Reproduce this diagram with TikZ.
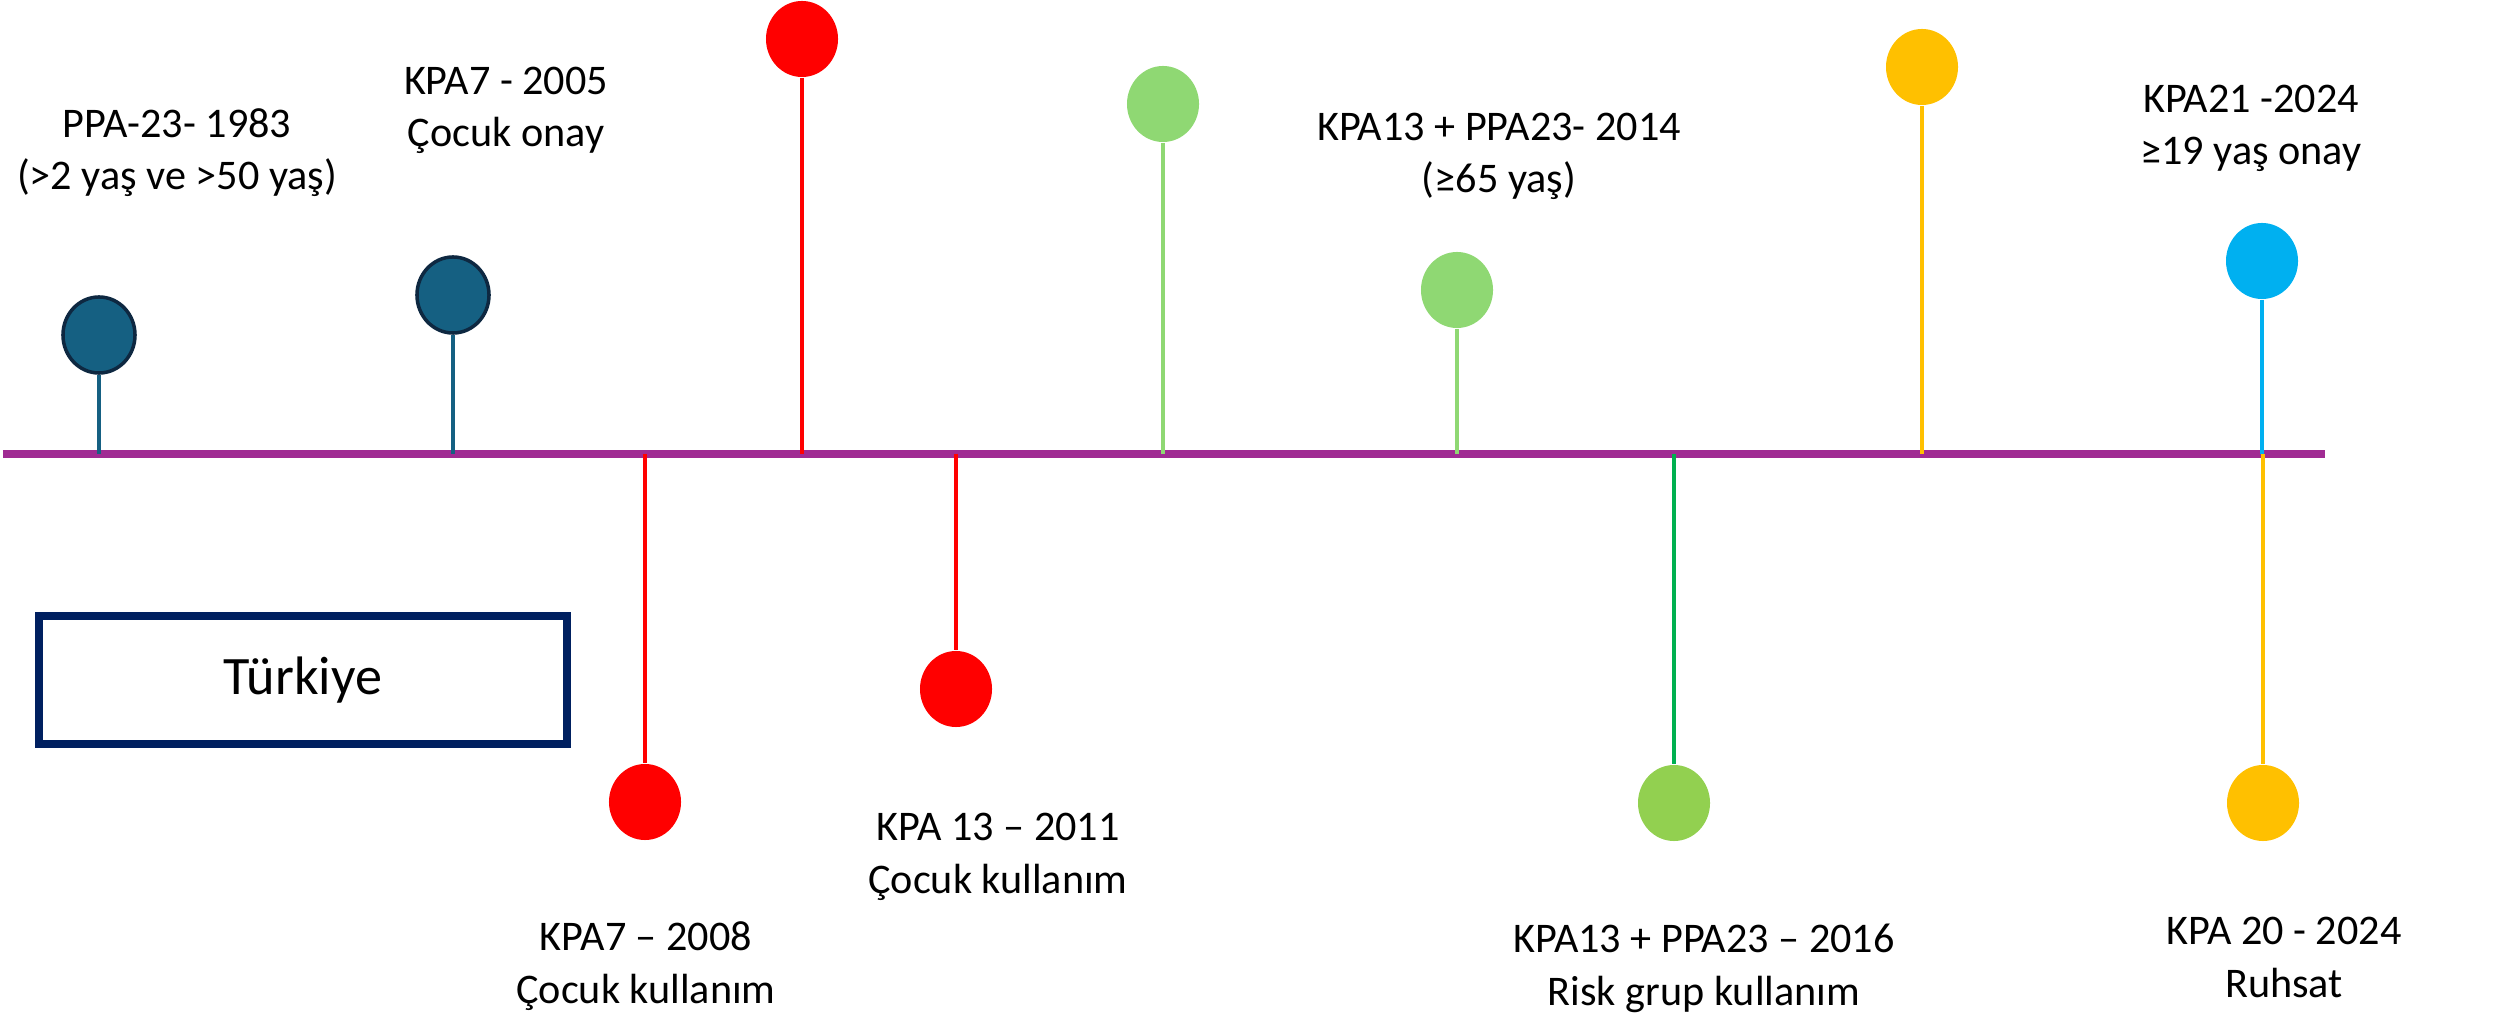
\documentclass[tikz,border=0pt]{standalone}
\usepackage{fontspec}
\setmainfont{Carlito}
\usetikzlibrary{shapes.geometric}
\definecolor{tlpurple}{RGB}{160,43,147}
\definecolor{dkblue}{RGB}{21,96,130}
\definecolor{dkedge}{RGB}{14,40,65}
\definecolor{ltgreen}{RGB}{143,216,115}
\definecolor{lmgreen}{RGB}{146,208,80}
\definecolor{stgreen}{RGB}{0,176,80}
\definecolor{ambr}{RGB}{255,192,0}
\definecolor{skyb}{RGB}{0,176,240}
\definecolor{navy}{RGB}{0,32,96}
\tikzset{
  pin/.style={ellipse, minimum width=0.72cm, minimum height=0.76cm, inner sep=0pt, fill=#1},
  stem/.style={line width=1.05pt, draw=#1},
  lbl/.style={align=center, font=\fontsize{12}{15}\selectfont, anchor=base, inner sep=0pt},
}
\begin{document}
\begin{tikzpicture}[x=0.01cm, y=-0.01cm]
\useasboundingbox (0,0) rectangle (2509,1016);
% timeline
\coordinate (tlS) at (3,454);
\coordinate (tlE) at (2325,454);
\draw[line width=2.28pt, tlpurple] (tlS) -- (tlE);
% stem ends on timeline
\foreach \n/\x in {t1/99,t2/453,t3/802,t4/1163,t5/645,t6/956,t7/1457,t8/1674,t9/1922,t10/2262,t11/2263}
  \coordinate (\n) at (\x,454);
% pins
\node[pin=dkblue, draw=dkedge, line width=1pt] (c1) at (99,335) {};
\node[pin=dkblue, draw=dkedge, line width=1pt] (c2) at (453,295) {};
\node[pin=red] (c3) at (802,39) {};
\node[pin=ltgreen] (c4) at (1163,104) {};
\node[pin=red] (c5) at (645,802) {};
\node[pin=red] (c6) at (956,689) {};
\node[pin=ltgreen] (c7) at (1457,290) {};
\node[pin=lmgreen] (c8) at (1674,803) {};
\node[pin=ambr] (c9) at (1922,67) {};
\node[pin=skyb] (c10) at (2262,261) {};
\node[pin=ambr] (c11) at (2263,803) {};
% stems
\draw[stem=dkblue] (c1) -- (t1);
\draw[stem=dkblue] (c2) -- (t2);
\draw[stem=red] (c3) -- (t3);
\draw[stem=ltgreen] (c4) -- (t4);
\draw[stem=red] (t5) -- (c5);
\draw[stem=red] (t6) -- (c6);
\draw[stem=ltgreen] (c7) -- (t7);
\draw[stem=stgreen] (t8) -- (c8);
\draw[stem=ambr] (c9) -- (t9);
\draw[stem=skyb] (c10) -- (t10);
\draw[stem=ambr] (t11) -- (c11);
% labels (anchor = baseline of the last line)
\node[lbl] (l1) at (177,190) {PPA-23- 1983\\(>2 yaş ve >50 yaş)};
\node[lbl] (l2) at (506,147) {KPA7 - 2005\\Çocuk onay};
\node[lbl] (l3) at (1499,193) {KPA13 + PPA23- 2014\\(≥65 yaş)};
\node[lbl] (l4) at (2251,165) {KPA21 -2024\\≥19 yaş onay};
\node[lbl] (l5) at (998,893) {KPA 13 – 2011\\Çocuk kullanım};
\node[lbl] (l6) at (646,1003) {KPA7 – 2008\\Çocuk kullanım};
\node[lbl] (l7) at (1704,1005) {KPA13 + PPA23 – 2016\\Risk grup kullanım};
\node[lbl] (l8) at (2284,997) {KPA 20 - 2024\\Ruhsat};
% country box
\node[draw=navy, line width=2.28pt, minimum width=5.28cm, minimum height=1.28cm, inner sep=0pt,
      font=\fontsize{15.4}{18}\selectfont] (tr) at (303,680) {Türkiye};
\end{tikzpicture}
\end{document}
